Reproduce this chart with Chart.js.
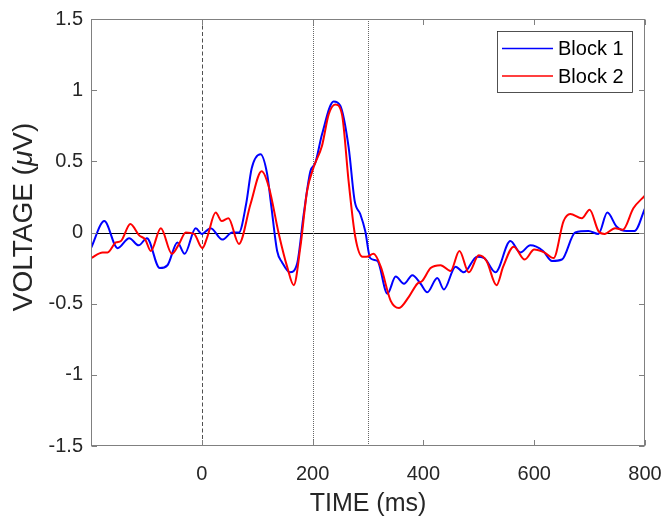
<!DOCTYPE html>
<html>
<head>
<meta charset="utf-8">
<script src="https://cdn.jsdelivr.net/npm/chart.js@4/dist/chart.umd.min.js"></script>
<style>
  html, body { margin: 0; padding: 0; background: #fff; }
  #wrap { width: 668px; height: 518px; }
</style>
</head>
<body>
<div id="wrap"><canvas id="erp" width="668" height="518"></canvas></div>
<script>
/* ERP waveforms */
const timeBlock1 = [-200,-176,-152,-131,-114,-99,-76,-62,-44,-31,-11,0,16,37,55,67,80,90,106,118,125,136,145,159,172,184,196,205,217,238,250,265,276,286,295,304,317,335,350,365,380,395,407,425,437,458,473,497,510,530,557,575,593,616,632,650,674,698,716,732,749,767,781,800];
const voltBlock1 = [-0.11,0.08,-0.11,-0.04,-0.09,-0.04,-0.25,-0.23,-0.07,-0.15,0.03,-0.01,0.03,-0.05,0.0,0.0,0.2,0.45,0.55,0.41,0.2,-0.13,-0.21,-0.28,-0.22,0.13,0.43,0.49,0.69,0.92,0.89,0.6,0.22,0.13,0.01,-0.18,-0.2,-0.43,-0.31,-0.36,-0.3,-0.36,-0.42,-0.32,-0.4,-0.24,-0.28,-0.17,-0.18,-0.28,-0.06,-0.14,-0.09,-0.13,-0.2,-0.19,0.0,0.01,-0.01,0.14,0.04,0.01,0.01,0.17];

const timeBlock2 = [-200,-179,-170,-155,-146,-129,-113,-102,-92,-74,-54,-41,-29,-14,1,10,25,36,48,67,88,108,121,139,154,166,178,190,202,217,229,241,253,265,277,290,297,310,323,341,356,374,389,398,413,431,449,465,482,500,514,532,544,563,583,600,618,635,653,665,686,700,716,727,746,760,779,800];
const voltBlock2 = [-0.18,-0.14,-0.14,-0.07,-0.06,0.06,-0.02,-0.05,-0.13,0.03,-0.15,-0.08,0.0,-0.01,-0.11,-0.03,0.14,0.08,0.1,-0.08,0.2,0.43,0.32,-0.01,-0.24,-0.37,-0.1,0.29,0.46,0.61,0.83,0.9,0.83,0.36,-0.03,-0.17,-0.17,-0.15,-0.24,-0.48,-0.53,-0.45,-0.36,-0.34,-0.25,-0.23,-0.27,-0.13,-0.28,-0.16,-0.2,-0.37,-0.24,-0.1,-0.19,-0.12,-0.14,-0.18,0.08,0.13,0.1,0.16,0.01,-0.01,0.03,0.02,0.17,0.26];

const seriesNames = ['Block 1', 'Block 2'];
const seriesColors = ['#0000ff', '#ff0000'];

const xTicks = [0, 200, 400, 600, 800];
const yTicks = [-1.5, -1, -0.5, 0, 0.5, 1, 1.5];
const markerTimes = [0, 200, 300];
const markerStyles = ['dash', 'dot', 'dot'];

const fontFam = "'Liberation Sans', Arial, Helvetica, sans-serif";
const txtColor = '#262626';
const boxColor = '#808080';

function toPoints(ts, vs) {
  return ts.map((t, i) => ({ x: t, y: vs[i] }));
}

/* zero line, stimulus markers, box, inward ticks, legend, axis titles */
const decor = {
  id: 'decor',
  beforeDatasetsDraw(chart) {
    const { ctx, chartArea: a, scales: { x, y } } = chart;
    ctx.save();
    ctx.beginPath();
    ctx.rect(a.left, a.top, a.right - a.left, a.bottom - a.top);
    ctx.clip();
    // horizontal zero line
    ctx.strokeStyle = '#000';
    ctx.lineWidth = 1;
    const y0 = Math.round(y.getPixelForValue(0)) + 0.5;
    ctx.beginPath();
    ctx.moveTo(a.left, y0);
    ctx.lineTo(a.right, y0);
    ctx.stroke();
    // markers
    markerTimes.forEach((t, i) => {
      const px = Math.round(x.getPixelForValue(t)) + 0.5;
      if (markerStyles[i] === 'dash') {
        ctx.strokeStyle = '#505050';
        ctx.setLineDash([4, 2.5]);
      } else {
        ctx.strokeStyle = '#666';
        ctx.setLineDash([1, 1]);
      }
      ctx.beginPath();
      ctx.moveTo(px, a.top);
      ctx.lineTo(px, a.bottom);
      ctx.stroke();
    });
    ctx.restore();
  },
  afterDraw(chart) {
    const { ctx, chartArea: a, scales: { x, y } } = chart;
    ctx.save();
    const L = Math.round(a.left) + 0.5, R = Math.round(a.right) - 0.5;
    const T = Math.round(a.top) + 0.5, B = Math.round(a.bottom) - 0.5;
    ctx.strokeStyle = boxColor;
    ctx.lineWidth = 1;
    ctx.strokeRect(L, T, R - L, B - T);
    const tl = 5.5;
    ctx.beginPath();
    xTicks.forEach(v => {
      const px = Math.round(x.getPixelForValue(v)) + 0.5;
      ctx.moveTo(px, B); ctx.lineTo(px, B - tl);
      ctx.moveTo(px, T); ctx.lineTo(px, T + tl);
    });
    yTicks.forEach(v => {
      const py = Math.round(y.getPixelForValue(v)) + 0.5;
      ctx.moveTo(L, py); ctx.lineTo(L + tl, py);
      ctx.moveTo(R, py); ctx.lineTo(R - tl, py);
    });
    ctx.stroke();

    // legend
    const lx = 497.5, ly = 31.5, lw = 135, lh = 61;
    ctx.fillStyle = '#fff';
    ctx.fillRect(lx, ly, lw, lh);
    ctx.strokeStyle = '#262626';
    ctx.lineWidth = 0.8;
    ctx.strokeRect(lx, ly, lw, lh);
    ctx.font = '20px ' + fontFam;
    ctx.textBaseline = 'middle';
    ctx.textAlign = 'left';
    chart.data.datasets.forEach((ds, i) => {
      const rowY = 48.5 + i * 27.5;
      ctx.strokeStyle = ds.borderColor;
      ctx.lineWidth = 1.6;
      ctx.beginPath();
      ctx.moveTo(502, rowY);
      ctx.lineTo(553, rowY);
      ctx.stroke();
      ctx.fillStyle = '#000';
      ctx.fillText(ds.label, 558, rowY + 1);
    });

    // x title
    ctx.fillStyle = txtColor;
    ctx.font = '25px ' + fontFam;
    ctx.textAlign = 'center';
    ctx.textBaseline = 'middle';
    ctx.fillText('TIME (ms)', (a.left + a.right) / 2, 504);

    // y title with italic mu
    const parts = [['VOLTAGE (', 'normal'], ['\u03bc', 'italic'], ['V)', 'normal']];
    const ySize = 28;
    let total = 0;
    parts.forEach(p => {
      ctx.font = p[1] + ' ' + ySize + 'px ' + fontFam;
      total += ctx.measureText(p[0]).width;
    });
    ctx.translate(24, 217);
    ctx.rotate(-Math.PI / 2);
    ctx.textAlign = 'left';
    let cx = -total / 2;
    parts.forEach(p => {
      ctx.font = p[1] + ' ' + ySize + 'px ' + fontFam;
      ctx.fillText(p[0], cx, 0);
      cx += ctx.measureText(p[0]).width;
    });
    ctx.restore();
  }
};

const chart = new Chart(document.getElementById('erp'), {
  type: 'line',
  data: {
    datasets: [
      {
        label: seriesNames[0],
        data: toPoints(timeBlock1, voltBlock1),
        borderColor: seriesColors[0],
        borderWidth: 2,
        pointRadius: 0,
        cubicInterpolationMode: 'monotone',
        fill: false,
        order: 1
      },
      {
        label: seriesNames[1],
        data: toPoints(timeBlock2, voltBlock2),
        borderColor: seriesColors[1],
        borderWidth: 2,
        pointRadius: 0,
        cubicInterpolationMode: 'monotone',
        fill: false,
        order: 0
      }
    ]
  },
  options: {
    responsive: false,
    animation: false,
    layout: { padding: { top: 19, right: 23, left: 0, bottom: 0 } },
    plugins: { legend: { display: false }, tooltip: { enabled: false } },
    scales: {
      x: {
        type: 'linear',
        min: -200,
        max: 800,
        afterBuildTicks: s => { s.ticks = xTicks.map(v => ({ value: v })); },
        afterFit: s => { s.height = 72; s.paddingLeft = 0; s.paddingRight = 0; },
        grid: { display: false, drawTicks: false },
        border: { display: false },
        ticks: {
          padding: 16,
          maxRotation: 0,
          color: txtColor,
          font: { family: fontFam, size: 20 }
        }
      },
      y: {
        min: -1.5,
        max: 1.5,
        afterBuildTicks: s => { s.ticks = yTicks.map(v => ({ value: v })); },
        afterFit: s => { s.width = 91; s.paddingTop = 0; s.paddingBottom = 0; },
        grid: { display: false, drawTicks: false },
        border: { display: false },
        ticks: {
          padding: 8,
          color: txtColor,
          font: { family: fontFam, size: 20 },
          callback: v => String(v)
        }
      }
    }
  },
  plugins: [decor]
});
</script>
</body>
</html>
